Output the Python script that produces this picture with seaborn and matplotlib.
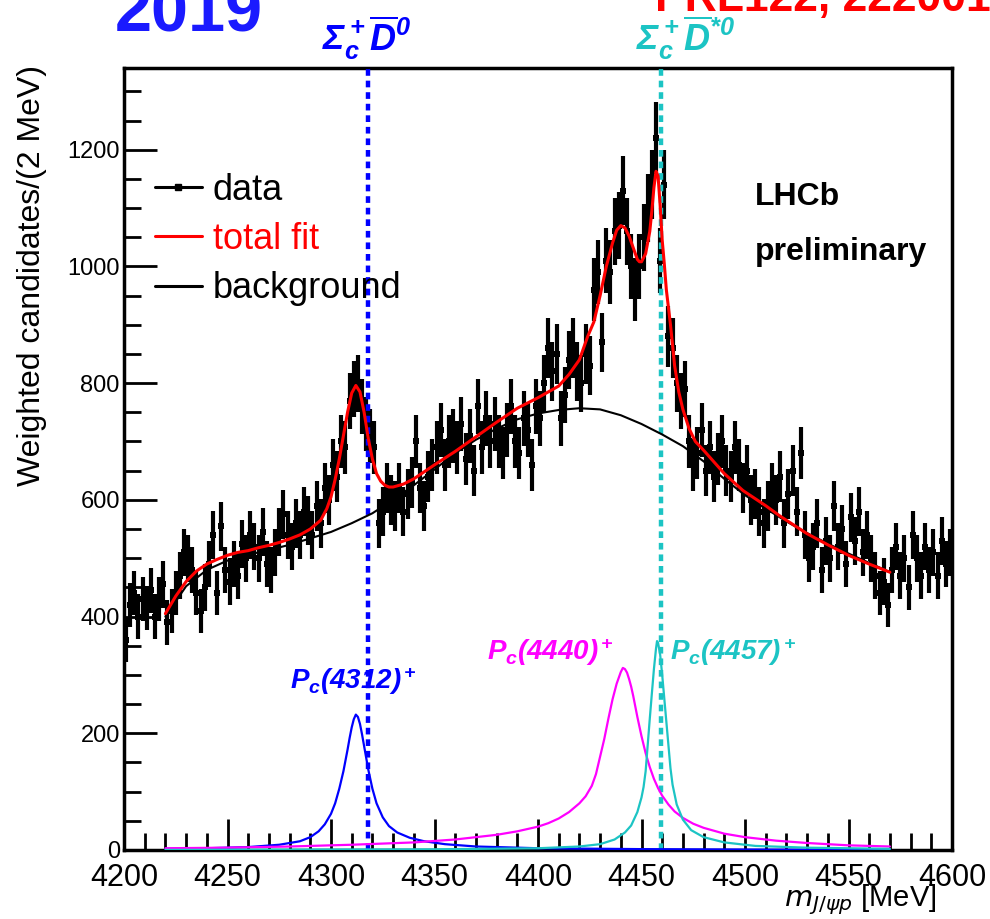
import numpy as np
import pandas as pd
import matplotlib
matplotlib.use('Agg')
import matplotlib.pyplot as plt
import seaborn as sns
from matplotlib.lines import Line2D
from matplotlib.ticker import MultipleLocator
from matplotlib import font_manager as fm

# ---------------- data ----------------
bin_start = 4200
bin_width = 2
data_counts = [
    360, 420, 440, 400, 430, 415, 445, 400, 430, 455,
    390, 410, 440, 470, 510, 500, 480, 440, 410, 450,
    490, 540, 440, 555, 480, 460, 490, 470, 525, 500,
    540, 520, 500, 545, 490, 480, 510, 545, 575, 540,
    520, 560, 540, 580, 565, 540, 590, 560, 620, 600,
    660, 640, 700, 690, 770, 790, 800, 760, 730, 710,
    690, 560, 580, 620, 600, 590, 620, 580, 610, 630,
    700, 620, 590, 640, 660, 690, 720, 660, 700, 710,
    690, 730, 670, 710, 650, 760, 690, 740, 700, 730,
    700, 680, 720, 760, 700, 680, 740, 720, 660, 760,
    740, 800, 860, 820, 850, 740, 780, 840, 860, 820,
    800, 850, 830, 960, 990, 870, 1010, 990, 1060, 1070,
    1130, 1060, 1000, 960, 1000, 1050, 1100, 1140, 1220, 1010,
    1140, 880, 860, 800, 770, 790, 700, 660, 680, 720,
    650, 690, 640, 670, 700, 650, 640, 690, 660, 620,
    650, 600, 610, 580, 560, 590, 620, 600, 640, 560,
    610, 650, 580, 680, 540, 500, 520, 560, 480, 530,
    500, 590, 520, 550, 490, 570, 530, 580, 510, 540,
    500, 470, 440, 460, 420, 480, 520, 470, 500, 450,
    540, 500, 470, 520, 480, 510, 470, 530, 490, 510,
]
data_errors = [
    37, 38, 38, 38, 38, 38, 39, 38, 38, 40,
    38, 38, 38, 40, 40, 40, 40, 38, 38, 40,
    40, 41, 38, 42, 40, 40, 40, 40, 41, 40,
    41, 41, 40, 41, 40, 40, 40, 41, 42, 41,
    41, 42, 41, 42, 42, 41, 43, 42, 43, 43,
    45, 44, 46, 45, 48, 48, 49, 47, 46, 46,
    45, 42, 42, 43, 43, 43, 43, 42, 43, 44,
    46, 43, 43, 44, 45, 45, 46, 45, 46, 46,
    45, 46, 45, 46, 44, 47, 45, 47, 46, 46,
    46, 45, 46, 47, 46, 45, 47, 46, 45, 47,
    47, 49, 51, 50, 51, 47, 48, 50, 51, 50,
    49, 51, 50, 54, 55, 51, 56, 55, 57, 57,
    59, 57, 55, 54, 55, 57, 58, 59, 61, 56,
    59, 52, 51, 49, 48, 48, 46, 45, 45, 46,
    44, 45, 44, 45, 46, 44, 44, 45, 45, 43,
    44, 43, 43, 42, 42, 43, 43, 43, 44, 42,
    43, 44, 42, 45, 41, 40, 41, 42, 40, 41,
    40, 43, 41, 42, 40, 42, 41, 42, 40, 41,
    40, 40, 38, 40, 38, 40, 41, 40, 40, 39,
    41, 40, 40, 41, 40, 40, 40, 41, 40, 40,
]

fit_x = [4220, 4225, 4230, 4235, 4240, 4245, 4250, 4255, 4260, 4265, 4270, 4275,
         4280, 4285, 4290, 4295, 4298, 4300, 4302, 4304, 4306, 4308, 4310, 4312,
         4314, 4316, 4318, 4320, 4322, 4324, 4326, 4328, 4330, 4335, 4340, 4345,
         4350, 4360, 4370, 4380, 4390, 4400, 4405, 4410, 4415, 4420, 4424, 4427,
         4430, 4433, 4436, 4438, 4440, 4442, 4444, 4446, 4448, 4449, 4450, 4452,
         4454, 4455, 4456, 4457, 4458, 4459, 4460, 4461, 4462, 4464, 4466, 4468,
         4470, 4473, 4476, 4480, 4483, 4490, 4499, 4510, 4517, 4530, 4540, 4550,
         4560, 4570]
fit_y = [405, 435, 460, 478, 490, 498, 505, 510, 513, 518, 522, 527,
         533, 540, 550, 565, 585, 605, 635, 670, 710, 750, 783, 796,
         785, 750, 705, 670, 645, 632, 625, 622, 622, 627, 636, 648,
         660, 683, 708, 733, 757, 775, 785, 795, 815, 840, 880, 905,
         950, 1000, 1040, 1062, 1070, 1066, 1052, 1032, 1012, 1008, 1008, 1022,
         1060, 1095, 1135, 1163, 1155, 1105, 1045, 1005, 960, 900, 830, 785,
         755, 722, 700, 685, 673, 645, 616, 590, 572, 542, 523, 505,
         490, 476]

bkg_x = [4220, 4230, 4240, 4250, 4260, 4270, 4280, 4290, 4300, 4310, 4320, 4330,
         4340, 4350, 4360, 4370, 4380, 4390, 4400, 4410, 4420, 4430, 4440, 4450,
         4460, 4470, 4480, 4490, 4500, 4510, 4520, 4530, 4540, 4550, 4560, 4570]
bkg_y = [400, 452, 480, 496, 506, 514, 523, 534, 545, 560, 577, 600,
         625, 652, 680, 703, 722, 738, 748, 754, 757, 755, 745, 730,
         712, 692, 666, 636, 608, 585, 563, 543, 525, 508, 492, 476]

pc4312_x = [4220, 4240, 4260, 4275, 4285, 4290, 4294, 4297, 4300, 4302, 4304, 4306,
            4308, 4309, 4310, 4311, 4312, 4313, 4314, 4315, 4316, 4317, 4318, 4320,
            4322, 4325, 4328, 4332, 4338, 4345, 4355, 4370, 4400, 4450, 4500, 4570]
pc4312_y = [2, 3, 5, 9, 15, 22, 32, 44, 62, 80, 105, 135,
            172, 192, 210, 224, 232, 228, 216, 198, 178, 158, 138, 105,
            80, 56, 41, 30, 21, 15, 10, 6, 3, 1.5, 0.8, 0.3]

pc4440_x = [4220, 4250, 4280, 4310, 4340, 4360, 4380, 4390, 4400, 4405, 4410, 4415,
            4420, 4423, 4426, 4428, 4430, 4432, 4434, 4436, 4438, 4440, 4441, 4442,
            4443, 4444, 4445, 4446, 4448, 4450, 4452, 4454, 4456, 4458, 4460, 4463,
            4466, 4470, 4475, 4480, 4490, 4500, 4515, 4530, 4550, 4570]
pc4440_y = [3, 4, 6, 9, 13, 18, 26, 32, 40, 46, 54, 65,
            80, 92, 110, 130, 160, 190, 225, 258, 285, 305, 312, 310,
            304, 293, 280, 264, 228, 195, 166, 142, 122, 106, 93, 78,
            66, 55, 45, 38, 28, 22, 16, 12, 8, 6]

pc4457_x = [4220, 4350, 4400, 4420, 4430, 4437, 4442, 4445, 4448, 4450, 4451, 4452,
            4453, 4454, 4455, 4456, 4457, 4457.5, 4458, 4459, 4460, 4461, 4462, 4463,
            4464, 4465, 4467, 4470, 4474, 4480, 4490, 4505, 4530, 4570]
pc4457_y = [0.2, 1.2, 3, 6, 10, 18, 30, 42, 65, 90, 108, 135,
            180, 225, 268, 310, 345, 358, 355, 335, 300, 260, 220, 180,
            140, 112, 78, 52, 34, 22, 13, 7, 4, 2]

thresholds = [4318.0, 4459.6]
threshold_labels = [r'$\Sigma_c^+\overline{D}^0$', r'$\Sigma_c^+\overline{D}^{*0}$']
state_labels = [r'$P_c(4312)^+$', r'$P_c(4440)^+$', r'$P_c(4457)^+$']
legend_labels = ['data', 'total fit', 'background']
x_ticks = [4200, 4250, 4300, 4350, 4400, 4450, 4500, 4550, 4600]
y_ticks = [0, 200, 400, 600, 800, 1000, 1200]

# ---------------- style ----------------
sns.set_theme(style='ticks')
plt.rcParams['font.family'] = ['Liberation Sans', 'DejaVu Sans']
plt.rcParams['text.color'] = 'black'
plt.rcParams['axes.labelcolor'] = 'black'
plt.rcParams['xtick.color'] = 'black'
plt.rcParams['ytick.color'] = 'black'
plt.rcParams['mathtext.fontset'] = 'custom'
plt.rcParams['mathtext.rm'] = 'Liberation Sans:italic:bold'
plt.rcParams['mathtext.it'] = 'Liberation Sans:italic:bold'
plt.rcParams['mathtext.bf'] = 'Liberation Sans:italic:bold'
plt.rcParams['mathtext.sf'] = 'Liberation Sans:italic:bold'


def has_font(name):
    try:
        fm.findfont(fm.FontProperties(family=name), fallback_to_default=False)
        return True
    except Exception:
        return False


NARROW = has_font('Liberation Sans Narrow')
narrow_family = ['Liberation Sans Narrow', 'Liberation Sans'] if NARROW else ['Liberation Sans']

BLUE = '#0000ff'
MAGENTA = '#ff00ff'
CYAN = '#1cc4c4'

W, H = 990, 919
fig = plt.figure(figsize=(W / 100, H / 100), dpi=100)
ax = fig.add_axes([124 / W, 69 / H, 828 / W, 782 / H])


def fx(px):
    return px / W


def fy(py):
    return 1 - py / H


# ---------------- data points ----------------
centers = bin_start + bin_width / 2 + bin_width * np.arange(len(data_counts))
df = pd.DataFrame({'mass': centers, 'count': data_counts, 'err': data_errors})
ax.vlines(df['mass'], df['count'] - df['err'], df['count'] + df['err'],
          colors='black', linewidth=3.0, zorder=3)
sns.scatterplot(data=df, x='mass', y='count', marker='s', s=24, color='black',
                edgecolor='black', linewidth=0, ax=ax, zorder=3, legend=False)

# ---------------- threshold lines ----------------
for xv, col in zip(thresholds, [BLUE, CYAN]):
    ax.axvline(xv, color=col, lw=3.2, linestyle=(0, (1.5, 1.1)), zorder=4)

# ---------------- curves ----------------
def curve(xs, ys, color, lw, z):
    sns.lineplot(x=xs, y=ys, ax=ax, color=color, lw=lw, sort=False,
                 estimator=None, zorder=z, legend=False)

curve(pc4312_x, pc4312_y, BLUE, 1.6, 5)
curve(pc4440_x, pc4440_y, MAGENTA, 1.6, 5)
curve(pc4457_x, pc4457_y, CYAN, 1.6, 5)
curve(bkg_x, bkg_y, 'black', 1.5, 5)
curve(fit_x, fit_y, 'red', 2.2, 6)

# ---------------- axes ----------------
ax.set_xlim(4200, 4600)
ax.set_ylim(0, 1340)
ax.set_xlabel('')
ax.set_ylabel('')
ax.set_xticks(x_ticks)
ax.set_xticklabels([str(t) for t in x_ticks])
ax.set_yticks(y_ticks)
ax.set_yticklabels([str(t) for t in y_ticks])
ax.xaxis.set_minor_locator(MultipleLocator(10))
ax.yaxis.set_minor_locator(MultipleLocator(50))
ax.tick_params(axis='both', which='both', direction='in', top=False, right=False,
               color='black', width=2.0)
ax.tick_params(axis='x', which='major', length=22, pad=9)
ax.tick_params(axis='x', which='minor', length=12)
ax.tick_params(axis='y', which='major', length=24, pad=3)
ax.tick_params(axis='y', which='minor', length=12)
for lab in ax.get_yticklabels():
    lab.set_fontsize(17)
    lab.set_family(['Liberation Sans'])
    lab.set_color('black')
for lab in ax.get_xticklabels():
    lab.set_fontsize(26 if NARROW else 22)
    lab.set_family(narrow_family)
    lab.set_color('black')
for sp in ax.spines.values():
    sp.set_linewidth(2.5)
    sp.set_color('black')
ax.grid(False)

# ---------------- legend ----------------
handles = [Line2D([], [], color='black', lw=2.2, marker='s', markersize=4),
           Line2D([], [], color='red', lw=2.2),
           Line2D([], [], color='black', lw=2.2)]
leg = ax.legend(handles, legend_labels, loc='upper left',
                bbox_to_anchor=(fx(155), fy(173)), bbox_transform=fig.transFigure,
                frameon=False, fontsize=26, handlelength=1.3, handletextpad=0.3,
                labelspacing=0.39, borderpad=0, borderaxespad=0)
for t in leg.get_texts():
    t.set_color('black')
leg.get_texts()[1].set_color('red')

# ---------------- texts ----------------
fig.text(fx(115), fy(32), '2019', color='#1a1aff', fontsize=48, fontweight='bold',
         family=['Liberation Sans'], ha='left', va='baseline')
fig.text(fx(655), fy(11), 'PRL122, 222001', color='red', fontsize=32,
         fontweight='bold', family=['Liberation Sans'], ha='left', va='baseline')

fig.text(fx(367), fy(50), threshold_labels[0], color=BLUE, fontsize=26,
         ha='center', va='baseline')
fig.text(fx(686), fy(50), threshold_labels[1], color=CYAN, fontsize=26,
         ha='center', va='baseline')

fig.text(fx(290), fy(689), state_labels[0], color=BLUE, fontsize=20,
         ha='left', va='baseline')
fig.text(fx(487), fy(660), state_labels[1], color=MAGENTA, fontsize=20,
         ha='left', va='baseline')
fig.text(fx(670), fy(660), state_labels[2], color=CYAN, fontsize=20,
         ha='left', va='baseline')

fig.text(fx(755), fy(205), 'LHCb', fontsize=23, fontweight='bold',
         ha='left', va='baseline', color='black')
fig.text(fx(755), fy(260), 'preliminary', fontsize=23, fontweight='bold',
         ha='left', va='baseline', color='black')

fig.text(fx(32), fy(65), 'Weighted candidates/(2 MeV)', rotation=90,
         ha='center', va='top', fontsize=27 if NARROW else 23,
         family=narrow_family, color='black')
fig.text(fx(937), fy(900), r'$m_{J/\psi p}$ [MeV]', ha='right', va='center',
         fontsize=26 if NARROW else 21, family=narrow_family,
         math_fontfamily='dejavusans', color='black')

fig.savefig('out.png', dpi=100)
